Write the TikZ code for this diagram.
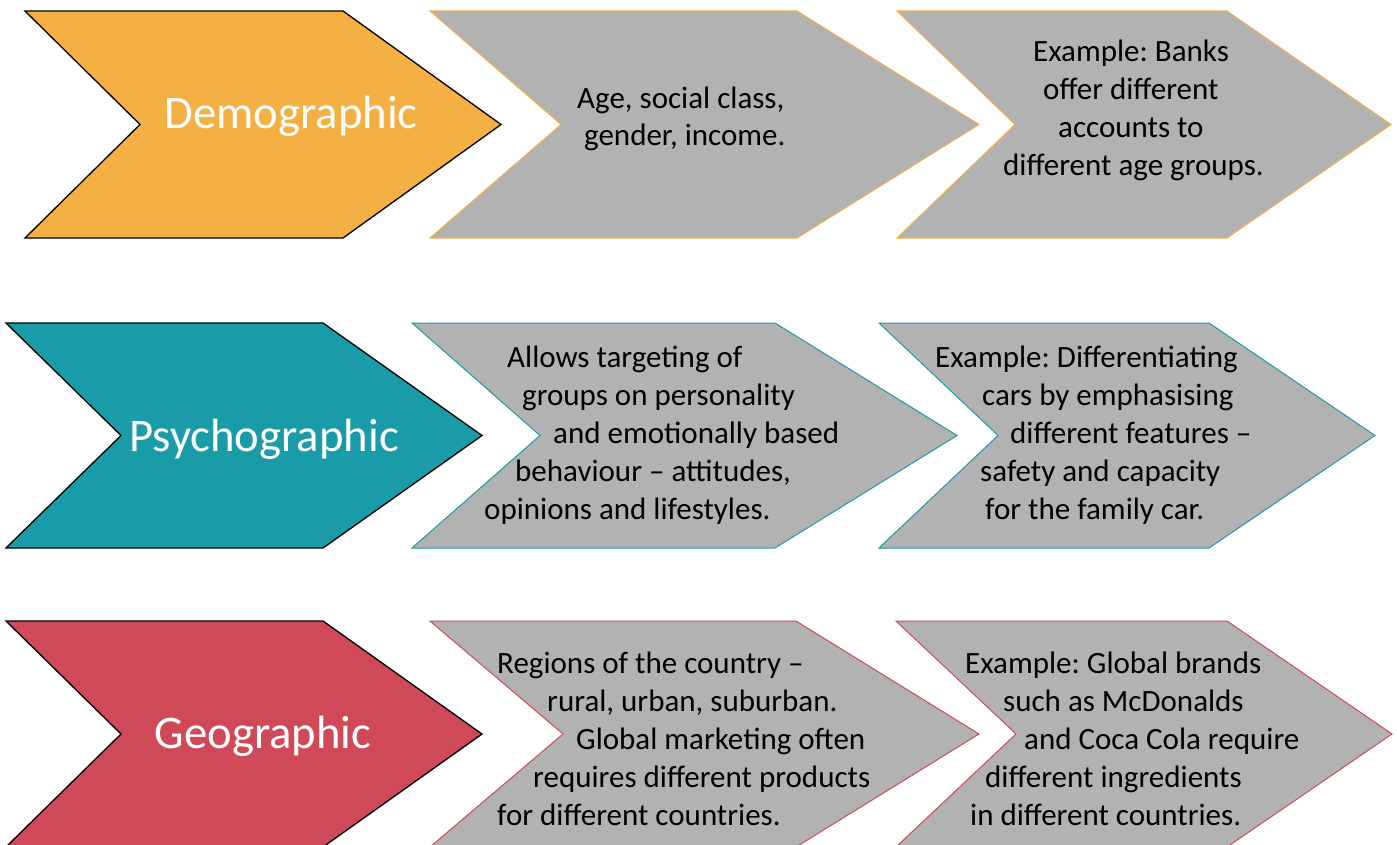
\documentclass[tikz,border=0pt]{standalone}
\usepackage{fontspec}
\setmainfont{Carlito}
\frenchspacing
\definecolor{cOrange}{HTML}{F4B043}
\definecolor{cTeal}{HTML}{1A9CA8}
\definecolor{cRed}{HTML}{CF4958}
\definecolor{cGray}{HTML}{B2B2B2}
\newcommand\chevshape[7]{%
  \draw[#1] (#2,#6) -- (#3,#6) -- (#4,{(#6+#7)/2}) -- (#3,#7) -- (#2,#7) -- (#5,{(#6+#7)/2}) -- cycle;}
\begin{document}
\begin{tikzpicture}[x=1pt,y=-1pt,
  headchev/.style={line width=1.3pt, draw=black, line join=miter},
  infochev/.style={line width=1pt, fill=cGray, line join=miter},
  head/.style={inner sep=0pt, text=white, font=\fontsize{46.7}{55}\selectfont},
  body/.style={anchor=base west, inner sep=0pt, text=black, font=\fontsize{31}{38}\selectfont}]
\useasboundingbox (0,0) rectangle (1397,845);
\clip (0,0) rectangle (1397,845);
% ---------- Row 1: Demographic ----------
\chevshape{headchev, fill=cOrange}{25}{343}{501}{140}{11}{238}
\chevshape{infochev, draw=cOrange}{430}{797}{979}{561}{11}{238}
\chevshape{infochev, draw=cOrange}{897}{1227}{1391}{1015}{11}{238}
\node[head] (demo) at (291,116) {Demographic};
\foreach \lx/\ly/\t [count=\i] in {577/109/{Age, social class,}, 584/146/{gender, income.}}
  \node[body] (demoA-\i) at (\lx,\ly) {\t};
\foreach \lx/\ly/\t [count=\i] in {1033/62/{Example: Banks}, 1043/100/{offer different}, 1058/138/{accounts to}, 1003/176/{different age groups.}}
  \node[body] (demoB-\i) at (\lx,\ly) {\t};
% ---------- Row 2: Psychographic ----------
\chevshape{headchev, fill=cTeal}{6}{323}{482}{121}{323}{548}
\chevshape{infochev, draw=cTeal}{412}{775}{957}{540}{323}{548}
\chevshape{infochev, draw=cTeal}{879}{1209}{1375}{998}{323}{548}
\node[head] (psy) at (264,439) {Psychographic};
\foreach \lx/\ly/\t [count=\i] in {507/367/{Allows targeting of}, 522/405/{groups on personality}, 553/443/{and emotionally based}, 515/481/{behaviour – attitudes,}, 484/519/{opinions and lifestyles.}}
  \node[body] (psyA-\i) at (\lx,\ly) {\t};
\foreach \lx/\ly/\t [count=\i] in {935/367/{Example: Differentiating}, 982/405/{cars by emphasising}, 1010/443/{different features –}, 980/481/{safety and capacity}, 985/519/{for the family car.}}
  \node[body] (psyB-\i) at (\lx,\ly) {\t};
% ---------- Row 3: Geographic ----------
\chevshape{headchev, fill=cRed}{6}{323}{482}{121}{621}{847}
\chevshape{infochev, draw=cRed}{430}{796}{979}{563}{621}{847}
\chevshape{infochev, draw=cRed}{896}{1227}{1392}{1016}{621}{847}
\node[head] (geo) at (263,736) {Geographic};
\foreach \lx/\ly/\t [count=\i] in {497/673/{Regions of the country –}, 547/711/{rural, urban, suburban.}, 576/749/{Global marketing often}, 533/787/{requires different products}, 497/825/{for different countries.}}
  \node[body] (geoA-\i) at (\lx,\ly) {\t};
\foreach \lx/\ly/\t [count=\i] in {965/673/{Example: Global brands}, 1003/711/{such as McDonalds}, 1024/749/{and Coca Cola require}, 985/787/{different ingredients}, 970/825/{in different countries.}}
  \node[body] (geoB-\i) at (\lx,\ly) {\t};
\end{tikzpicture}
\end{document}
